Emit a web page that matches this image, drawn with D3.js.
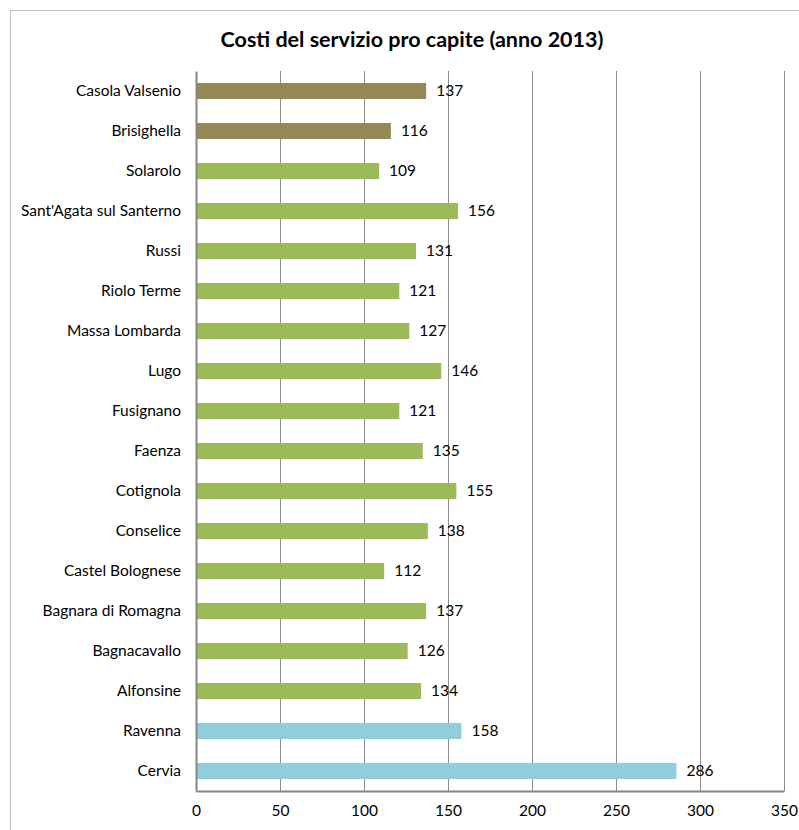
<!DOCTYPE html>
<html><head><meta charset="utf-8">
<script src="https://cdn.jsdelivr.net/npm/d3@7"></script>
<style>body{margin:0;background:#fff}</style>
</head><body>
<svg id="c" width="799" height="830"></svg>
<script>
const categories = ["Casola Valsenio","Brisighella","Solarolo","Sant'Agata sul Santerno","Russi","Riolo Terme","Massa Lombarda","Lugo","Fusignano","Faenza","Cotignola","Conselice","Castel Bolognese","Bagnara di Romagna","Bagnacavallo","Alfonsine","Ravenna","Cervia"];
const values = [137,116,109,156,131,121,127,146,121,135,155,138,112,137,126,134,158,286];
const groups = ["b","b","g","g","g","g","g","g","g","g","g","g","g","g","g","g","c","c"];
const groupColors = {b:"#938953", g:"#9BBB59", c:"#92CDDC"};
const tickValues = [0,50,100,150,200,250,300,350];
const title = "Costi del servizio pro capite (anno 2013)";

const svg = d3.select("#c");
const font = "Lato, 'Open Sans', sans-serif";
svg.append("rect").attr("x",10.5).attr("y",10.5).attr("width",800).attr("height",830)
  .attr("fill","#fff").attr("stroke","#bfbfbf").attr("stroke-width",1);

const m = {left:196, right:784, top:71, bottom:791};
const x = d3.scaleLinear().domain([0,350]).range([m.left,m.right]);
const y = d3.scaleBand().domain(categories).range([m.top,m.bottom]).paddingInner(0.6).paddingOuter(0.3);

svg.append("text").attr("x",412).attr("y",47).attr("text-anchor","middle")
  .attr("font-family",font).attr("font-weight","bold").attr("font-size",21.5).text(title);

// gridlines
svg.append("g").selectAll("line").data(tickValues.slice(1)).join("line")
  .attr("x1",d=>Math.round(x(d))+0.5).attr("x2",d=>Math.round(x(d))+0.5)
  .attr("y1",m.top).attr("y2",m.bottom).attr("stroke","#8c8c8c").attr("stroke-width",1);

// bars
svg.append("g").selectAll("rect").data(categories).join("rect")
  .attr("x",x(0)).attr("y",d=>y(d)).attr("height",y.bandwidth())
  .attr("width",(d,i)=>x(values[i])-x(0)).attr("fill",(d,i)=>groupColors[groups[i]]);

// value labels
svg.append("g").selectAll("text").data(categories).join("text")
  .attr("x",(d,i)=>x(values[i])+10).attr("y",d=>y(d)+y.bandwidth()/2).attr("dy","0.35em")
  .attr("font-family",font).attr("font-size",15.5).attr("fill","#000").text((d,i)=>values[i]);

// y axis
const ya = svg.append("g").attr("transform",`translate(${m.left},0)`)
  .call(d3.axisLeft(y).tickSize(0).tickPadding(15));
ya.select(".domain").attr("stroke","#868686").attr("stroke-width",2);
ya.selectAll("text").attr("font-family",font).attr("font-size",15.5).attr("fill","#000");

// x axis
const xa = svg.append("g").attr("transform",`translate(0,${m.bottom})`)
  .call(d3.axisBottom(x).tickValues(tickValues).tickSize(0).tickPadding(14));
xa.select(".domain").attr("stroke","#868686").attr("stroke-width",2);
xa.selectAll("text").attr("font-family",font).attr("font-size",15.5).attr("fill","#000");
</script>
</body></html>
